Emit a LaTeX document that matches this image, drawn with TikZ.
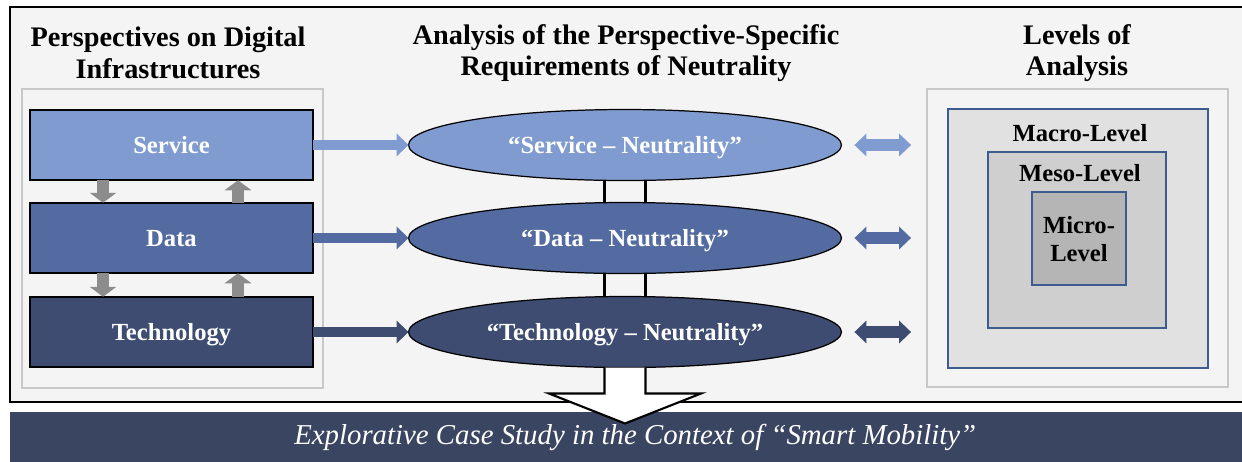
\documentclass[tikz,border=0pt]{standalone}
\usepackage{fontspec}
\setmainfont{Liberation Serif}
\usetikzlibrary{arrows.meta,shapes.geometric,calc}

\definecolor{bgcol}{HTML}{F4F4F4}
\definecolor{framecol}{HTML}{C8C8C8}
\definecolor{srvcol}{HTML}{7F9BD0}
\definecolor{datcol}{HTML}{536BA0}
\definecolor{teccol}{HTML}{3D4C70}
\definecolor{bancol}{HTML}{3A4562}
\definecolor{lvlline}{HTML}{3D5A91}
\definecolor{macrocol}{HTML}{E1E1E1}
\definecolor{mesocol}{HTML}{CFCFCF}
\definecolor{microcol}{HTML}{B5B5B5}

\begin{document}
\begin{tikzpicture}[x=0.02cm,y=-0.02cm,
    heading/.style={align=center,font=\bfseries\fontsize{16.1}{18.1}\selectfont},
    greybox/.style={draw=framecol,line width=1.1pt,fill=bgcol,minimum width=6.02cm},
    layerbox/.style={draw=black,line width=0.9pt,text=white,outer sep=0pt,text depth=0pt,
      minimum width=5.66cm,minimum height=1.41cm,font=\bfseries\fontsize{14}{16}\selectfont},
    neutral/.style={ellipse,draw=black,line width=0.7pt,text=white,inner sep=0pt,outer sep=0pt,
      text depth=0pt,minimum width=8.66cm,minimum height=1.42cm,font=\bfseries\fontsize{14}{16}\selectfont},
    lvlbox/.style={draw=lvlline,line width=1.1pt},
    lvltext/.style={align=center,font=\bfseries\fontsize{14}{15.5}\selectfont},
    fatarrow/.style={draw=#1,line width=5.7pt,
      -{Triangle[length=6.8pt,width=13pt,line width=0pt,fill=#1]}},
    dblarrow/.style={draw=#1,line width=6.8pt,
      {Triangle[length=6.8pt,width=13pt,line width=0pt,fill=#1]}-{Triangle[length=6.8pt,width=13pt,line width=0pt,fill=#1]}},
    greyarrow/.style={draw=black!45,line width=6.8pt,
      -{Triangle[length=5.7pt,width=15.3pt,line width=0pt,fill=black!45]}}]

  \useasboundingbox (0,0) rectangle (1242,461);
  \clip (0,0) rectangle (1242,461);

  %%%%%%%%%%%%%%%%%%%%%%%%%%%%%%%%%%%%%%%%%%%%%%%%%%%%%%%%%%%%%%%%%%%%%%%%%%%
  %%%%  Frame and banner
  \draw[fill=bgcol,line width=1.1pt] (10,7) rectangle (1270,402);
  \node[fill=bancol,text=white,anchor=north west,minimum width=25cm,minimum height=1cm,
    font=\itshape\fontsize{16.4}{18}\selectfont] (banner) at (10,412)
    {Explorative Case Study in the Context of “Smart Mobility”};

  \node[heading] (head-l) at (168,53) {Perspectives on Digital\\Infrastructures};
  \node[heading] (head-m) at (626,53) {Analysis of the Perspective-Specific\\Requirements of Neutrality};
  \node[heading] (head-r) at (1077,53) {Levels of\\Analysis};

  \node[greybox,minimum height=5.98cm] (persp) at (172.5,238.5) {};
  \node[greybox,minimum height=5.96cm] (levels) at (1077.5,238) {};

  %%%%%%%%%%%%%%%%%%%%%%%%%%%%%%%%%%%%%%%%%%%%%%%%%%%%%%%%%%%%%%%%%%%%%%%%%%%
  %%%%  Levels of analysis
  \node[lvlbox,fill=macrocol,minimum width=5.2cm,minimum height=5.18cm] (macro) at (1078,238.5) {};
  \node[lvlbox,fill=mesocol,minimum width=3.56cm,minimum height=3.52cm] (meso) at (1077,240) {};
  \node[lvlbox,fill=microcol,minimum width=1.88cm,minimum height=1.86cm] (micro) at (1079,238.5) {};
  \node[lvltext] (macro-t) at (1080,133) {Macro-Level};
  \node[lvltext] (meso-t) at (1080,173) {Meso-Level};
  \node[lvltext] (micro-t) at (1079,239) {Micro-\\Level};

  %%%%%%%%%%%%%%%%%%%%%%%%%%%%%%%%%%%%%%%%%%%%%%%%%%%%%%%%%%%%%%%%%%%%%%%%%%%
  %%%%  Perspectives and neutralities
  \foreach \name/\lbl/\col/\y in {srv/Service/srvcol/145,dat/Data/datcol/238,tec/Technology/teccol/332}
   {\node[layerbox,fill=\col] (\name) at (171.5,\y) {\lbl};
    \node[neutral,fill=\col] (\name-ell) at (625,\y) {“\lbl{} – Neutrality”};
    \draw[fatarrow=\col] (\name) -- (\name-ell);
    \draw[dblarrow=\col] ($(\name-ell.east)+(13,0)$) -- ($(\name-ell.east -| levels.west)+(-15,0)$);
   };

  \foreach \a/\b in {srv/dat,dat/tec}
   {\draw[greyarrow] ($(\a.south west)+(73,0)$) -- ($(\b.north west)+(73,0)$);
    \draw[greyarrow] ($(\b.north west)+(208,0)$) -- ($(\a.south west)+(208,0)$);
    \draw[line width=1.2pt] ($(\a-ell.south)+(-20.5,0)$) -- ($(\b-ell.north)+(-20.5,0)$);
    \draw[line width=1.2pt] ($(\a-ell.south)+(20.5,0)$) -- ($(\b-ell.north)+(20.5,0)$);
   };

  % block arrow down to the case study
  \draw[fill=white,line width=1.2pt,line join=miter]
    ($(tec-ell.south)+(-20.5,0)$) -- ++(0,26) -- ++(-55.5,0) -- ++(76,30)
    -- ++(76,-30) -- ++(-55.5,0) -- ++(0,-26);
\end{tikzpicture}
\end{document}
